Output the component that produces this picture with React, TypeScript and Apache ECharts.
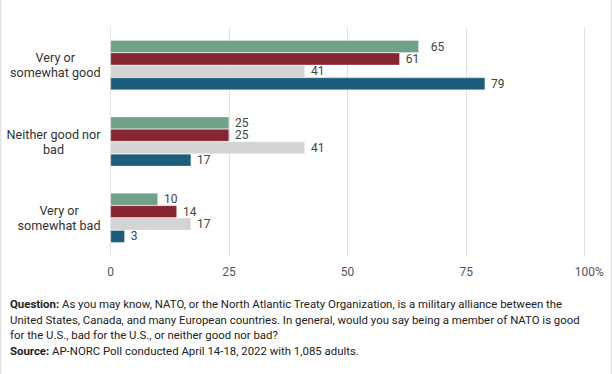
import React, { useEffect, useRef } from "react";
import * as echarts from "echarts";

const categories = ["Very or\nsomewhat good", "Neither good nor\nbad", "Very or\nsomewhat bad"];
const seriesNames = ["Series A", "Series B", "Series C", "Series D"];
const seriesColors = ["#6fa287", "#862633", "#d4d4d4", "#1b5d7b"];
const seriesValues = [
  [65, 25, 10],
  [61, 25, 14],
  [41, 41, 17],
  [79, 17, 3],
];
const xTicks = [0, 25, 50, 75, 100];

export default function App() {
  const ref = useRef<HTMLDivElement>(null);
  useEffect(() => {
    if (!ref.current) return;
    const chart = echarts.init(ref.current, null, { renderer: "svg" });
    const font = "Roboto";
    chart.setOption({
      animation: false,
      backgroundColor: "#ffffff",
      textStyle: { fontFamily: font },
      grid: { left: 110.5, right: 27.3, top: 27, bottom: 118, containLabel: false },
      xAxis: {
        type: "value",
        min: xTicks[0],
        max: xTicks[xTicks.length - 1],
        interval: 25,
        axisLine: { show: false },
        axisTick: { show: false },
        splitLine: { show: true, lineStyle: { color: "#e2e2e2", width: 1 } },
        axisLabel: {
          color: "#555",
          fontSize: 12,
          fontFamily: font,
          margin: 10,
          formatter: (v: number) => (v === 100 ? "{p|100%}" : String(v)),
          rich: { p: { padding: [0, 0, 0, 9], color: "#555", fontSize: 12, fontFamily: font } },
        },
      },
      yAxis: {
        type: "category",
        data: categories,
        inverse: true,
        axisLine: { show: false },
        axisTick: { show: false },
        axisLabel: {
          color: "#333",
          fontSize: 12.6,
          lineHeight: 15,
          fontFamily: font,
          margin: 10,
          align: "right",
          formatter: (v: string) => v.split("\n").map((s) => "{c|" + s + "}").join("\n"),
          rich: { c: { align: "center", color: "#333", fontSize: 12.6, lineHeight: 15, fontFamily: font } },
        },
      },
      series: seriesValues.map((vals, i) => ({
        name: seriesNames[i],
        type: "bar",
        barGap: "0%",
        barCategoryGap: "35%",
        itemStyle: { color: seriesColors[i], borderColor: "rgba(255,255,255,0.6)", borderWidth: 0.5 },
        data: vals.map((v, j) =>
          i === 0 && j === 0 ? { value: v, label: { distance: 12 } } : v
        ),
        label: {
          show: true,
          position: "right",
          distance: 6,
          color: "#444",
          fontSize: 12,
          lineHeight: 11.5,
          fontFamily: font,
        },
      })),
      graphic: [
        { type: "rect", shape: { x: 0, y: 0, width: 1.5, height: 374 }, style: { fill: "#e4e4e4" }, silent: true },
        { type: "rect", shape: { x: 610.5, y: 0, width: 1.5, height: 374 }, style: { fill: "#e4e4e4" }, silent: true },
        {
          type: "text",
          left: 10,
          top: 296,
          style: {
            text:
              "{b|Question:} As you may know, NATO, or the North Atlantic Treaty Organization, is a military alliance between the\nUnited States, Canada, and many European countries. In general, would you say being a member of NATO is good\nfor the U.S., bad for the U.S., or neither good nor bad?\n{b|Source:} AP-NORC Poll conducted April 14-18, 2022 with 1,085 adults.",
            fontFamily: font,
            fontSize: 11.4,
            lineHeight: 15.7,
            fill: "#222",
            rich: {
              b: { fontWeight: "bold", fontFamily: font, fontSize: 11.4, lineHeight: 15.7, fill: "#222" },
            },
          },
        },
      ],
    });
    return () => chart.dispose();
  }, []);
  return <div ref={ref} style={{ width: 612, height: 374, position: "absolute", left: 0, top: 0 }} />;
}
